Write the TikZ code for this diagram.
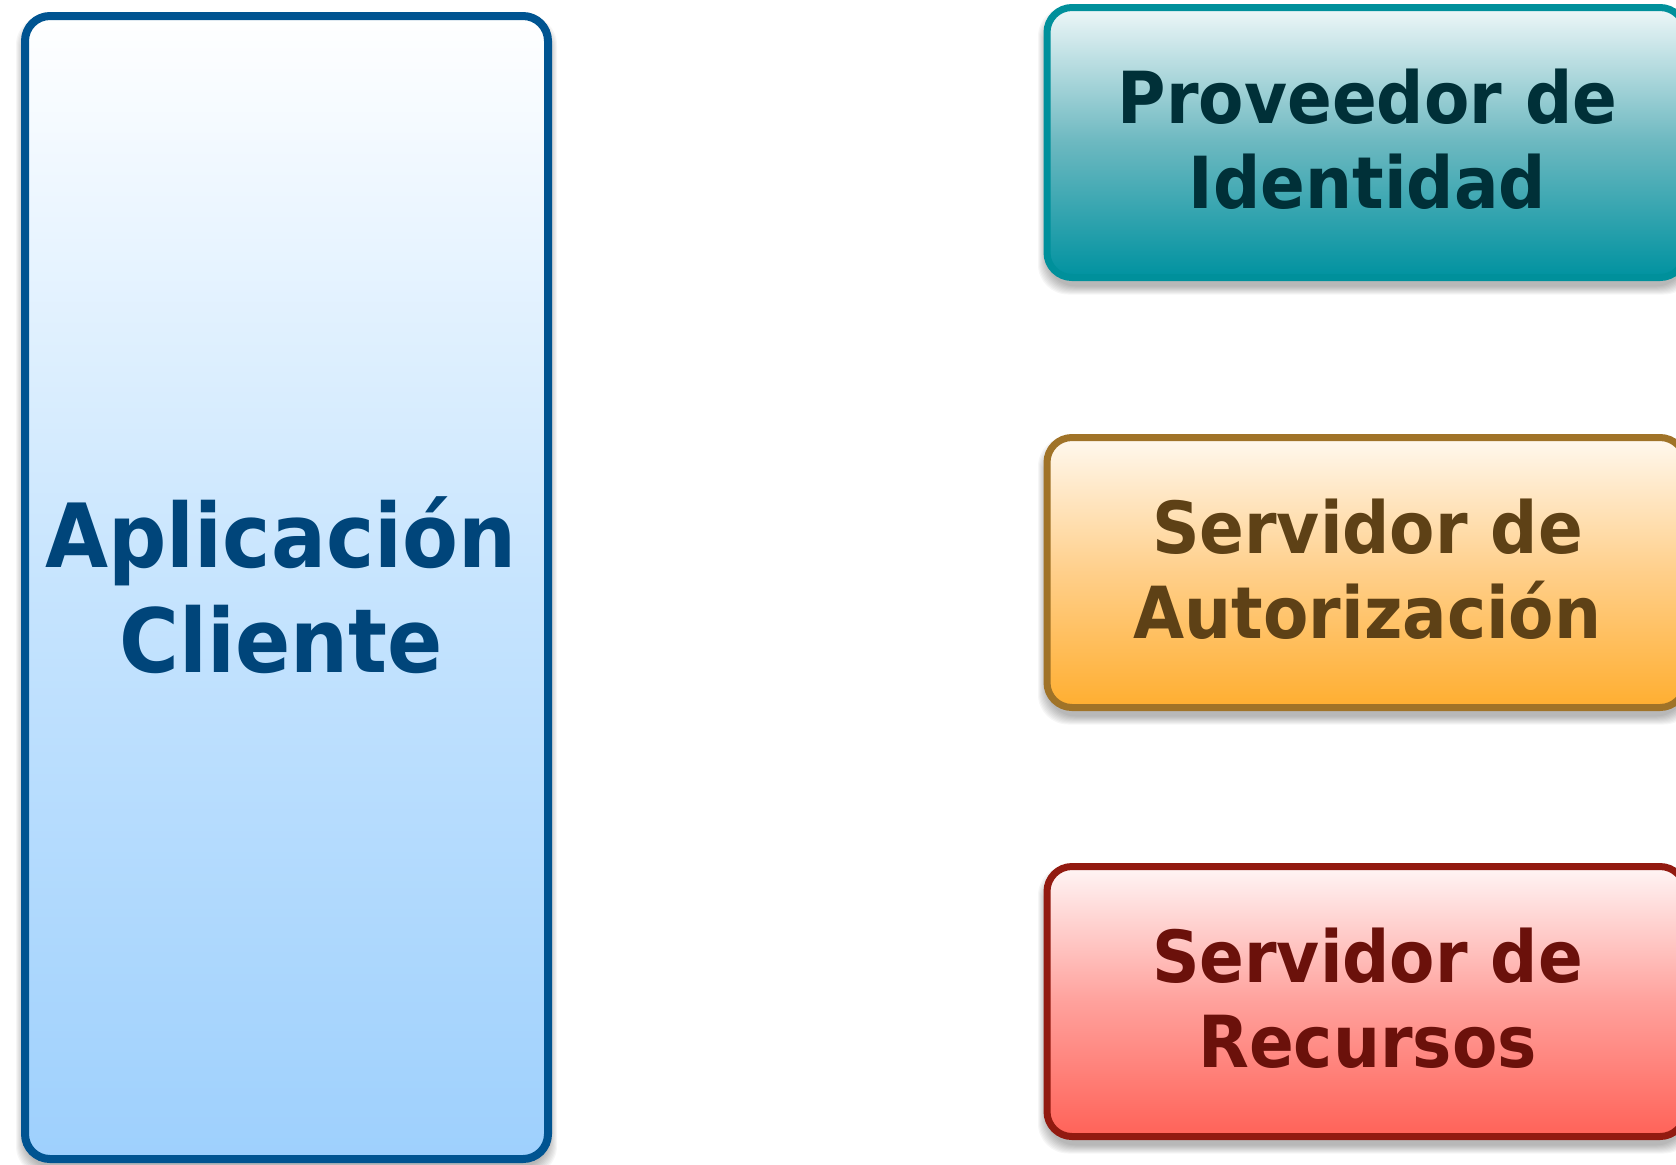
\documentclass[tikz,border=0pt]{standalone}
\usepackage{fontspec}
\newfontfamily\lblfont[FakeStretch=0.92]{DejaVu Sans}
\definecolor{cliBorder}{HTML}{005491}
\definecolor{cliTop}{HTML}{FFFFFF}
\definecolor{cliMid}{HTML}{C6E4FE}
\definecolor{cliBot}{HTML}{9ED0FD}
\definecolor{cliText}{HTML}{00457A}
\definecolor{idpBorder}{HTML}{00909B}
\definecolor{idpTop}{HTML}{EEF7F8}
\definecolor{idpMid}{HTML}{6CB8C0}
\definecolor{idpBot}{HTML}{0092A0}
\definecolor{idpText}{HTML}{003038}
\definecolor{autBorder}{HTML}{A07328}
\definecolor{autTop}{HTML}{FFF8EE}
\definecolor{autMid}{HTML}{FFCF8A}
\definecolor{autBot}{HTML}{FFAE30}
\definecolor{autText}{HTML}{5E4116}
\definecolor{resBorder}{HTML}{921A10}
\definecolor{resTop}{HTML}{FFF5F5}
\definecolor{resMid}{HTML}{FFA19C}
\definecolor{resBot}{HTML}{FF6258}
\definecolor{resText}{HTML}{6B110B}
\newcommand\softshadow[4]{%
  \foreach \i in {0,...,8}{%
    \fill[black,opacity=0.035,rounded corners=15pt]
      (#1-9+\i,#2-9+\i+8) rectangle (#3+9-\i,#4+9-\i+8);
  }%
}
\begin{document}
\begin{tikzpicture}[x=0.5pt,y=-0.5pt,
  panel/.style={draw,rectangle,rounded corners=12.5pt,inner sep=0pt},
  bigtext/.style={anchor=base,inner sep=0pt,
    font=\lblfont\bfseries\fontsize{44.3}{52}\selectfont},
  smalltext/.style={anchor=base,inner sep=0pt,
    font=\lblfont\bfseries\fontsize{35.9}{43}\selectfont}]
\useasboundingbox (0,0) rectangle (1676,1164);
% shadows
\softshadow{25}{16}{548}{1159}
\softshadow{1047}{7.5}{1685}{277.5}
\softshadow{1047}{437.5}{1685}{707.5}
\softshadow{1047}{866.5}{1685}{1136.5}
% client box
\node[panel,line width=4pt,draw=cliBorder,top color=cliTop,bottom color=cliBot,middle color=cliMid,
  minimum width=261.5pt,minimum height=571.5pt] (cliente) at (286.5,587.5) {};
\node[bigtext,text=cliText] (cli1) at (281,567) {Aplicación};
\node[bigtext,text=cliText] (cli2) at (281,672) {Cliente};
% identity provider
\node[panel,line width=3.5pt,draw=idpBorder,top color=idpTop,bottom color=idpBot,middle color=idpMid,
  minimum width=319pt,minimum height=135pt] (idp) at (1366,142.5) {};
\node[smalltext,text=idpText] (idp1) at (1367.5,123) {Proveedor de};
\node[smalltext,text=idpText] (idp2) at (1367.5,208) {Identidad};
% authorization server
\node[panel,line width=3.5pt,draw=autBorder,top color=autTop,bottom color=autBot,middle color=autMid,
  minimum width=319pt,minimum height=135pt] (aut) at (1366,572.5) {};
\node[smalltext,text=autText] (aut1) at (1367.5,553) {Servidor de};
\node[smalltext,text=autText] (aut2) at (1367.5,638) {Autorización};
% resource server
\node[panel,line width=3.5pt,draw=resBorder,top color=resTop,bottom color=resBot,middle color=resMid,
  minimum width=319pt,minimum height=135pt] (res) at (1366,1001.5) {};
\node[smalltext,text=resText] (res1) at (1367.5,982) {Servidor de};
\node[smalltext,text=resText] (res2) at (1367.5,1067) {Recursos};
\end{tikzpicture}
\end{document}
